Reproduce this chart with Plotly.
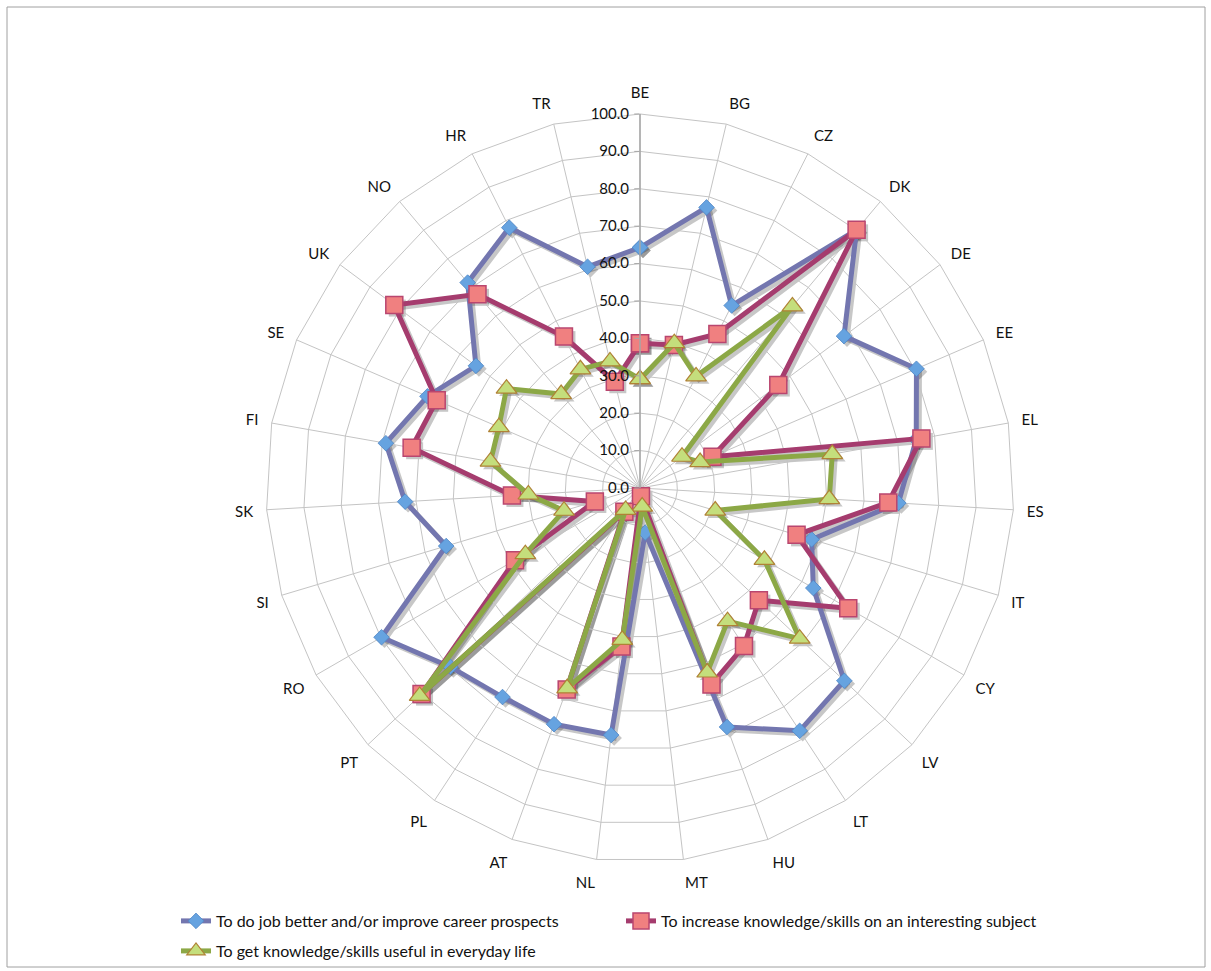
import plotly.graph_objects as go

# Countries around the radar, clockwise from the top
countries = ["BE", "BG", "CZ", "DK", "DE", "EE", "EL", "ES", "IT", "CY", "LV", "LT", "HU", "MT",
             "NL", "AT", "PL", "PT", "RO", "SI", "SK", "FI", "SE", "UK", "NO", "HR", "TR"]

# Share of respondents (%) by reason for participating in learning
job_career = [64.3, 77.1, 54.6, 90.1, 68.0, 80.5, 75.0, 69.2, 47.9, 53.5, 75.1, 77.7, 68.0, 12.0,
              66.5, 67.2, 66.9, 69.7, 79.8, 54.1, 62.9, 69.0, 61.9, 54.7, 71.7, 77.9, 60.8]
interest = [38.7, 39.3, 46.1, 90.1, 46.1, 21.1, 76.4, 66.5, 43.7, 64.3, 43.7, 50.6, 55.9, 2.2,
            42.7, 57.3, 7.6, 80.3, 38.6, 12.6, 34.3, 62.0, 59.2, 81.9, 67.6, 45.3, 29.2]
everyday = [29.1, 39.8, 33.4, 63.4, 14.0, 17.5, 52.2, 50.7, 21.0, 38.4, 58.7, 42.6, 52.5, 5.0,
            40.9, 57.0, 7.0, 81.0, 35.4, 21.2, 29.9, 40.6, 41.1, 44.5, 32.8, 35.5, 34.8]

series_names = [
    "To do job better and/or improve career prospects",
    "To increase knowledge/skills on an interesting subject",
    "To get knowledge/skills useful in everyday life",
]

W, H = 1211, 971
FONT = "Lato, 'Open Sans', sans-serif"
TXT = "#111111"


def closed(values):
    return list(values) + [values[0]]


styles = [
    dict(values=job_career, line="#7376AF", symbol="diamond", size=12,
         fill="#66A3E0", edge="#4F86C6", edge_w=0.8, legend="legend"),
    dict(values=interest, line="#A53C6E", symbol="square", size=17,
         fill="#F08080", edge="#B9466F", edge_w=1.5, legend="legend"),
    dict(values=everyday, line="#8CA846", symbol="triangle-up", size=18,
         fill="#C4DE7C", edge="#B08236", edge_w=1.2, legend="legend2"),
]

fig = go.Figure()

# soft drop shadows, drawn in an offset polar subplot underneath
for st in styles:
    fig.add_trace(go.Scatterpolar(
        r=closed(st["values"]), theta=closed(countries), subplot="polar",
        mode="lines+markers", showlegend=False, hoverinfo="skip",
        line=dict(color="rgba(0,0,0,0.22)", width=5),
        marker=dict(symbol=st["symbol"], size=st["size"], color="rgba(0,0,0,0.22)"),
    ))

for st, name in zip(styles, series_names):
    fig.add_trace(go.Scatterpolar(
        r=closed(st["values"]), theta=closed(countries), subplot="polar2", name=name,
        mode="lines+markers",
        line=dict(color=st["line"], width=5),
        marker=dict(symbol=st["symbol"], size=st["size"], color=st["fill"],
                    line=dict(color=st["edge"], width=st["edge_w"])),
        legend=st["legend"],
    ))

# polar square: centre (640, 488), radius 374 px
cx, cy, R = 640, 488, 374
dom_x = [(cx - R) / W, (cx + R) / W]
dom_y = [(H - (cy + R)) / H, (H - (cy - R)) / H]
sx, sy = 3, 3
shadow_x = [(cx - R + sx) / W, (cx + R + sx) / W]
shadow_y = [(H - (cy + R + sy)) / H, (H - (cy - R + sy)) / H]

hidden_axes = dict(
    radialaxis=dict(range=[0, 100], visible=False),
    angularaxis=dict(type="category", categoryarray=countries, direction="clockwise",
                     rotation=90, visible=False),
)

fig.update_layout(
    width=W, height=H,
    margin=dict(l=0, r=0, t=0, b=0),
    paper_bgcolor="white",
    font=dict(family=FONT, size=15, color=TXT),
    polar=dict(domain=dict(x=shadow_x, y=shadow_y), bgcolor="rgba(0,0,0,0)",
               gridshape="linear", **hidden_axes),
    polar2=dict(
        domain=dict(x=dom_x, y=dom_y),
        bgcolor="rgba(0,0,0,0)",
        gridshape="linear",
        radialaxis=dict(
            range=[0, 100], dtick=10, tickformat=".1f",
            angle=90, side="counterclockwise", tickangle=90,
            showline=True, linecolor="#A6A6A6", linewidth=1.5,
            gridcolor="#C4C4C4", gridwidth=1,
            ticks="outside", ticklen=5, tickcolor="#A6A6A6",
            tickfont=dict(family=FONT, size=15, color=TXT),
        ),
        angularaxis=dict(
            type="category", categoryarray=countries,
            direction="clockwise", rotation=90,
            showline=True, linecolor="#C4C4C4", linewidth=1,
            gridcolor="#C4C4C4", gridwidth=1,
            ticks="outside", ticklen=10, tickcolor="rgba(0,0,0,0)",
            tickfont=dict(family=FONT, size=15, color=TXT),
        ),
    ),
    legend=dict(
        orientation="h", x=176 / W, xanchor="left", y=(H - 921) / H, yanchor="middle",
        font=dict(family=FONT, size=16, color=TXT),
        entrywidth=400, entrywidthmode="pixels",
        bgcolor="rgba(0,0,0,0)",
    ),
    legend2=dict(
        orientation="h", x=176 / W, xanchor="left", y=(H - 951) / H, yanchor="middle",
        font=dict(family=FONT, size=16, color=TXT),
        bgcolor="rgba(0,0,0,0)",
    ),
    shapes=[dict(
        type="rect", xref="paper", yref="paper",
        x0=7 / W, x1=1205 / W, y0=(H - 967) / H, y1=(H - 7) / H,
        line=dict(color="#A0A0A0", width=1), fillcolor="rgba(0,0,0,0)", layer="below",
    )],
)

fig.write_html("out.html")
